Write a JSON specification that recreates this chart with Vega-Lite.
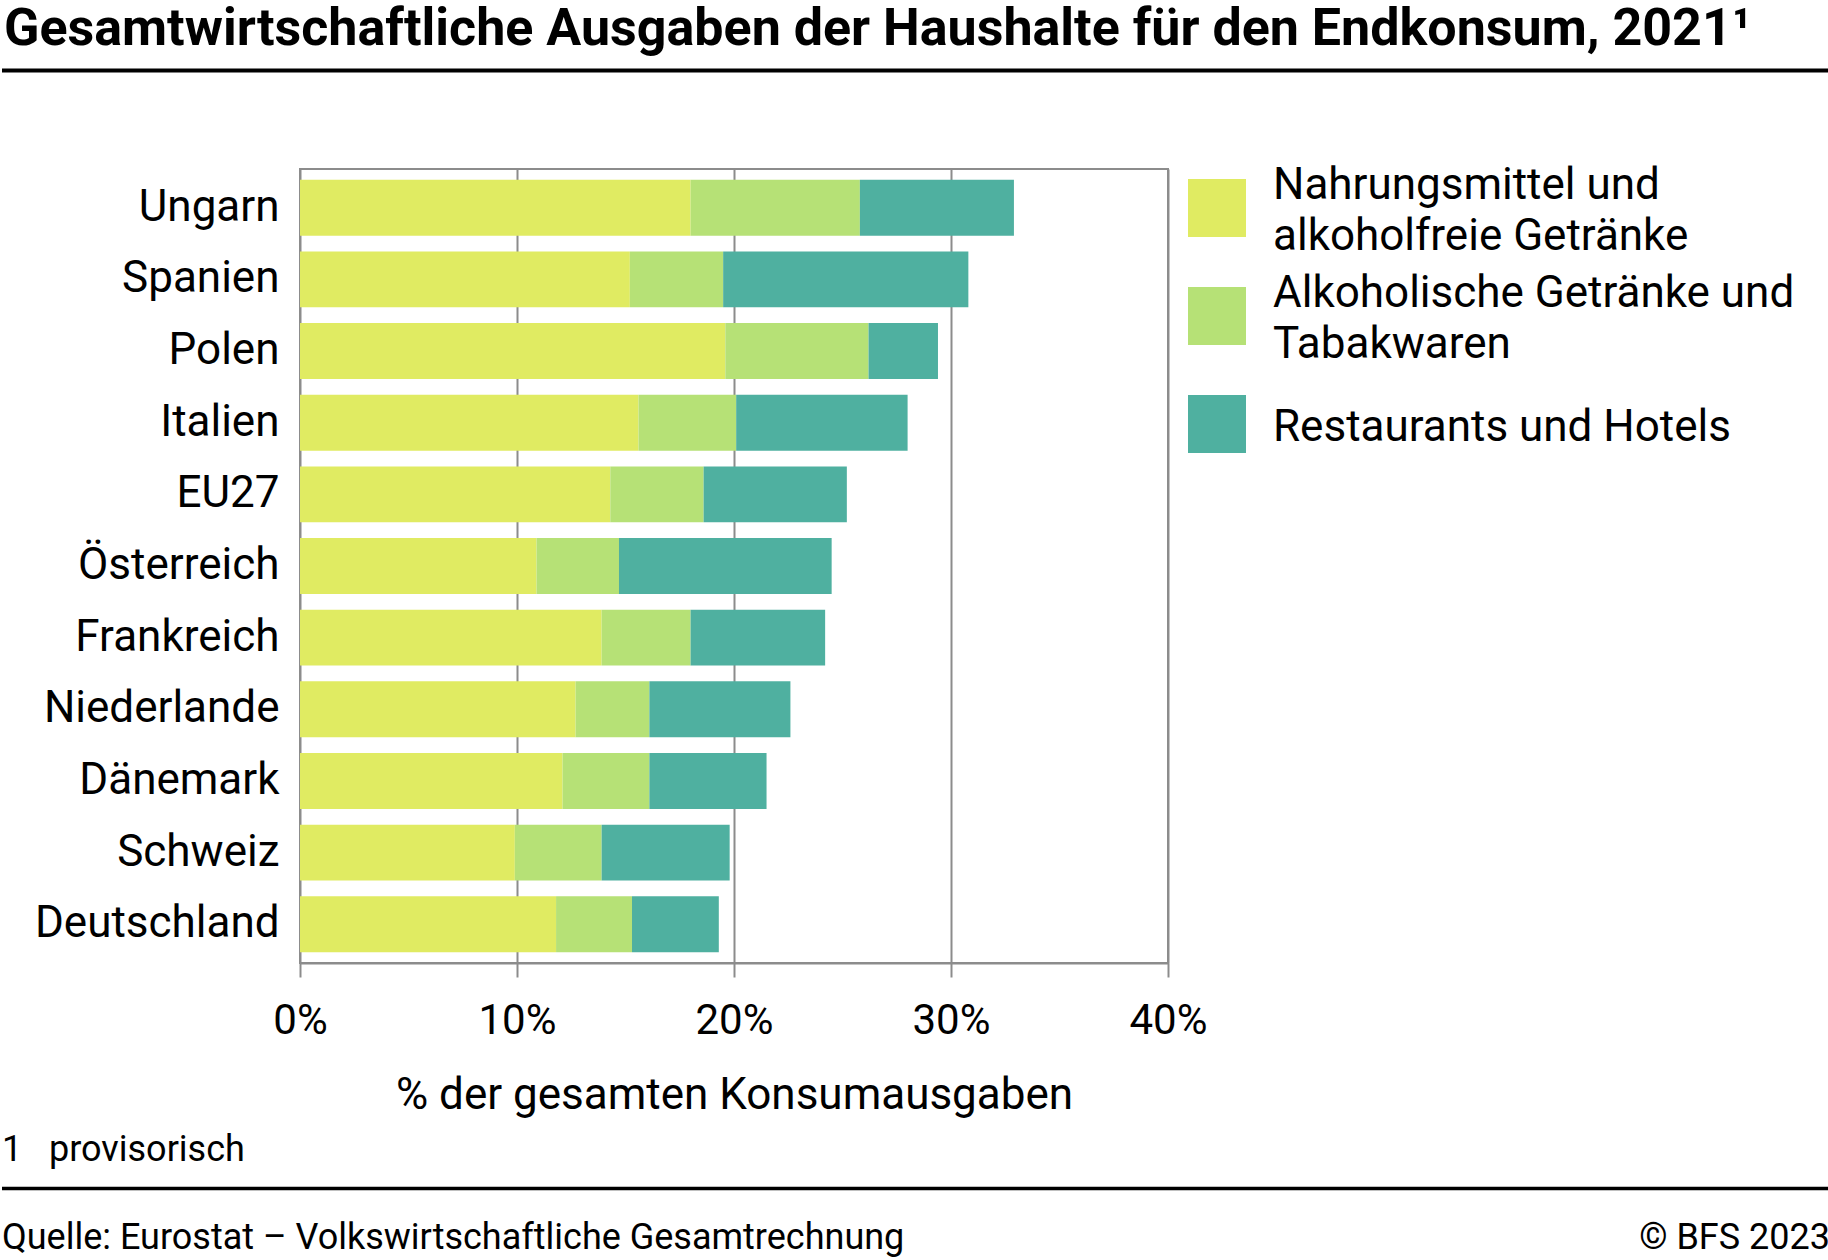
{
  "$schema": "https://vega.github.io/schema/vega-lite/v6.json",
  "padding": 0,
  "background": "white",
  "spacing": 0,
  "resolve": {"legend": {"color": "independent"}, "scale": {"x": "independent", "y": "independent", "color": "independent"}},
  "config": {
    "font": "Roboto",
    "view": {"stroke": null},
    "concat": {"spacing": 0},
    "style": {"guide-label": {"lineHeight": 25.5}}
  },
  "vconcat": [
    {
      "width": 1530,
      "height": 168,
      "data": {"values": [{"t": "Gesamtwirtschaftliche Ausgaben der Haushalte für den Endkonsum, 2021¹"}]},
      "layer": [
        {
          "mark": {"type": "text", "align": "left", "baseline": "alphabetic", "font": "Roboto", "fontWeight": "bold", "fontSize": 52, "color": "#000000", "dx": 2},
          "encoding": {
            "text": {"field": "t"},
            "x": {"datum": 0, "type": "quantitative", "scale": {"domain": [0, 1], "range": [-298, 1530], "nice": false, "zero": false}, "axis": null},
            "y": {"datum": 45, "type": "quantitative", "scale": {"domain": [0, 168], "nice": false, "reverse": true}, "axis": null}
          }
        },
        {
          "mark": {"type": "rule", "color": "#000000", "strokeWidth": 4},
          "encoding": {
            "x": {"datum": 0, "type": "quantitative"},
            "x2": {"datum": 1},
            "y": {"datum": 70.5, "type": "quantitative"}
          }
        }
      ]
    },
    {
      "width": 868,
      "height": 794,
      "view": {"stroke": "#8c8c8c", "strokeWidth": 2},
      "data": {
        "values": [
          {"Land": "Ungarn", "Kategorie": "Nahrungsmittel und alkoholfreie Getränke", "Nr": 1, "Anteil": 18.0},
          {"Land": "Ungarn", "Kategorie": "Alkoholische Getränke und Tabakwaren", "Nr": 2, "Anteil": 7.8},
          {"Land": "Ungarn", "Kategorie": "Restaurants und Hotels", "Nr": 3, "Anteil": 7.1},
          {"Land": "Spanien", "Kategorie": "Nahrungsmittel und alkoholfreie Getränke", "Nr": 1, "Anteil": 15.2},
          {"Land": "Spanien", "Kategorie": "Alkoholische Getränke und Tabakwaren", "Nr": 2, "Anteil": 4.3},
          {"Land": "Spanien", "Kategorie": "Restaurants und Hotels", "Nr": 3, "Anteil": 11.3},
          {"Land": "Polen", "Kategorie": "Nahrungsmittel und alkoholfreie Getränke", "Nr": 1, "Anteil": 19.6},
          {"Land": "Polen", "Kategorie": "Alkoholische Getränke und Tabakwaren", "Nr": 2, "Anteil": 6.6},
          {"Land": "Polen", "Kategorie": "Restaurants und Hotels", "Nr": 3, "Anteil": 3.2},
          {"Land": "Italien", "Kategorie": "Nahrungsmittel und alkoholfreie Getränke", "Nr": 1, "Anteil": 15.6},
          {"Land": "Italien", "Kategorie": "Alkoholische Getränke und Tabakwaren", "Nr": 2, "Anteil": 4.5},
          {"Land": "Italien", "Kategorie": "Restaurants und Hotels", "Nr": 3, "Anteil": 7.9},
          {"Land": "EU27", "Kategorie": "Nahrungsmittel und alkoholfreie Getränke", "Nr": 1, "Anteil": 14.3},
          {"Land": "EU27", "Kategorie": "Alkoholische Getränke und Tabakwaren", "Nr": 2, "Anteil": 4.3},
          {"Land": "EU27", "Kategorie": "Restaurants und Hotels", "Nr": 3, "Anteil": 6.6},
          {"Land": "Österreich", "Kategorie": "Nahrungsmittel und alkoholfreie Getränke", "Nr": 1, "Anteil": 10.9},
          {"Land": "Österreich", "Kategorie": "Alkoholische Getränke und Tabakwaren", "Nr": 2, "Anteil": 3.8},
          {"Land": "Österreich", "Kategorie": "Restaurants und Hotels", "Nr": 3, "Anteil": 9.8},
          {"Land": "Frankreich", "Kategorie": "Nahrungsmittel und alkoholfreie Getränke", "Nr": 1, "Anteil": 13.9},
          {"Land": "Frankreich", "Kategorie": "Alkoholische Getränke und Tabakwaren", "Nr": 2, "Anteil": 4.1},
          {"Land": "Frankreich", "Kategorie": "Restaurants und Hotels", "Nr": 3, "Anteil": 6.2},
          {"Land": "Niederlande", "Kategorie": "Nahrungsmittel und alkoholfreie Getränke", "Nr": 1, "Anteil": 12.7},
          {"Land": "Niederlande", "Kategorie": "Alkoholische Getränke und Tabakwaren", "Nr": 2, "Anteil": 3.4},
          {"Land": "Niederlande", "Kategorie": "Restaurants und Hotels", "Nr": 3, "Anteil": 6.5},
          {"Land": "Dänemark", "Kategorie": "Nahrungsmittel und alkoholfreie Getränke", "Nr": 1, "Anteil": 12.1},
          {"Land": "Dänemark", "Kategorie": "Alkoholische Getränke und Tabakwaren", "Nr": 2, "Anteil": 4.0},
          {"Land": "Dänemark", "Kategorie": "Restaurants und Hotels", "Nr": 3, "Anteil": 5.4},
          {"Land": "Schweiz", "Kategorie": "Nahrungsmittel und alkoholfreie Getränke", "Nr": 1, "Anteil": 9.9},
          {"Land": "Schweiz", "Kategorie": "Alkoholische Getränke und Tabakwaren", "Nr": 2, "Anteil": 4.0},
          {"Land": "Schweiz", "Kategorie": "Restaurants und Hotels", "Nr": 3, "Anteil": 5.9},
          {"Land": "Deutschland", "Kategorie": "Nahrungsmittel und alkoholfreie Getränke", "Nr": 1, "Anteil": 11.8},
          {"Land": "Deutschland", "Kategorie": "Alkoholische Getränke und Tabakwaren", "Nr": 2, "Anteil": 3.5},
          {"Land": "Deutschland", "Kategorie": "Restaurants und Hotels", "Nr": 3, "Anteil": 4.0}
        ]
      },
      "mark": {"type": "bar"},
      "encoding": {
        "y": {
          "field": "Land",
          "type": "nominal",
          "sort": ["Ungarn", "Spanien", "Polen", "Italien", "EU27", "Österreich", "Frankreich", "Niederlande", "Dänemark", "Schweiz", "Deutschland"],
          "scale": {"paddingInner": 0.22, "paddingOuter": 0.15},
          "axis": {
            "title": null,
            "domain": false, "ticks": false, "grid": false,
            "labelPadding": 21, "labelFontSize": 44, "labelColor": "#000000", "labelFont": "Roboto", "labelLimit": 500
          }
        },
        "x": {
          "field": "Anteil",
          "type": "quantitative",
          "stack": "zero",
          "scale": {"domain": [0, 40], "nice": false},
          "axis": {
            "values": [0, 10, 20, 30, 40],
            "labelExpr": "datum.value + '%'",
            "title": "% der gesamten Konsumausgaben",
            "titleFont": "Roboto", "titleFontSize": 44, "titleFontWeight": "normal", "titleColor": "#000000", "titlePadding": 32,
            "labelFont": "Roboto", "labelFontSize": 42, "labelColor": "#000000", "labelPadding": 23, "labelFlush": false,
            "tickSize": 14, "tickWidth": 2, "tickColor": "#8c8c8c",
            "domainColor": "#8c8c8c", "domainWidth": 2,
            "grid": true, "gridColor": "#8c8c8c", "gridWidth": 2
          }
        },
        "color": {
          "field": "Kategorie",
          "type": "nominal",
          "scale": {
            "domain": ["Nahrungsmittel und alkoholfreie Getränke", "Alkoholische Getränke und Tabakwaren", "Restaurants und Hotels"],
            "range": ["#e0eb62", "#b6e176", "#4fb0a0"]
          },
          "legend": {
            "title": null, "orient": "right", "offset": 10, "padding": 10,
            "symbolType": "square", "symbolSize": 3364, "symbolStrokeWidth": 0, "symbolOpacity": 1,
            "labelFont": "Roboto", "labelFontSize": 44, "labelColor": "#000000", "labelOffset": 27, "labelLimit": 800, "rowPadding": 13,
            "labelBaseline": "bottom",
            "labelExpr": "datum.label === 'Nahrungsmittel und alkoholfreie Getränke' ? ['Nahrungsmittel und', '\u2800', 'alkoholfreie Getränke'] : datum.label === 'Alkoholische Getränke und Tabakwaren' ? ['Alkoholische Getränke und', '\u2800', 'Tabakwaren'] : ['', datum.label, '']"
          }
        },
        "order": {"field": "Nr", "type": "quantitative"}
      }
    },
    {
      "width": 1530,
      "height": 144,
      "data": {"values": [{"a": "1\u00a0\u00a0\u00a0provisorisch", "b": "Quelle: Eurostat – Volkswirtschaftliche Gesamtrechnung", "c": "© BFS 2023"}]},
      "layer": [
        {
          "mark": {"type": "text", "align": "left", "baseline": "alphabetic", "font": "Roboto", "fontSize": 36, "color": "#000000"},
          "encoding": {
            "text": {"field": "a"},
            "x": {"datum": 0, "type": "quantitative", "scale": {"domain": [0, 1], "range": [-298, 1530], "nice": false, "zero": false}, "axis": null},
            "y": {"datum": 43, "type": "quantitative", "scale": {"domain": [0, 144], "nice": false, "reverse": true}, "axis": null}
          }
        },
        {
          "mark": {"type": "rule", "color": "#000000", "strokeWidth": 3.5},
          "encoding": {
            "x": {"datum": 0, "type": "quantitative"},
            "x2": {"datum": 1},
            "y": {"datum": 70.5, "type": "quantitative"}
          }
        },
        {
          "mark": {"type": "text", "align": "left", "baseline": "alphabetic", "font": "Roboto", "fontSize": 36, "color": "#000000"},
          "encoding": {
            "text": {"field": "b"},
            "x": {"datum": 0, "type": "quantitative"},
            "y": {"datum": 131, "type": "quantitative"}
          }
        },
        {
          "mark": {"type": "text", "align": "right", "baseline": "alphabetic", "font": "Roboto", "fontSize": 36, "color": "#000000"},
          "encoding": {
            "text": {"field": "c"},
            "x": {"datum": 1, "type": "quantitative"},
            "y": {"datum": 131, "type": "quantitative"}
          }
        }
      ]
    }
  ]
}
